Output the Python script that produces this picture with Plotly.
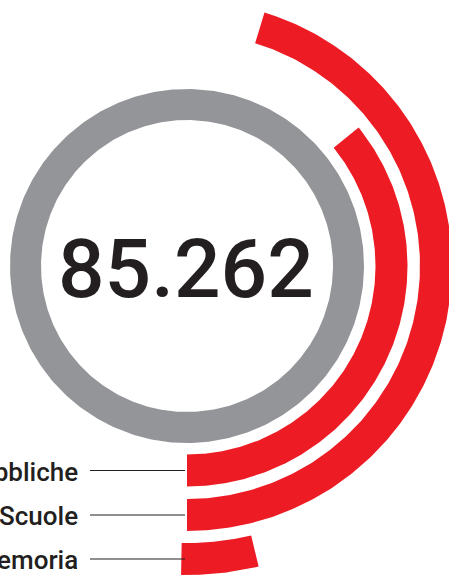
import numpy as np
import plotly.graph_objects as go

# ---- data ----
total_label = "85.262"
categories = ["Biblioteche pubbliche", "Scuole", "Luoghi della memoria"]
arc_start_deg = [270.0, 270.0, 268.9]      # where each arc begins (6 o'clock)
arc_sweep_deg = [128.9, 163.0, 14.5]       # angular extent of each arc

# ---- styles / geometry ----
RED = "#ED1C24"
GRAY = "#939598"
INK = "#231F20"
FONT = "Roboto, Liberation Sans, sans-serif"
ring_inner, ring_outer = 146, 177
arc_inner = [188.5, 233.0, 277.0]
arc_thick = 32.0
W, H = 449, 575
cx_px, cy_px = 187, 266


def sector(t0, t1, r0, r1, n=240):
    t = np.radians(np.linspace(t0, t1, n))
    xo, yo = r1 * np.cos(t), r1 * np.sin(t)
    xi, yi = r0 * np.cos(t[::-1]), r0 * np.sin(t[::-1])
    x = np.concatenate([xo, xi, xo[:1]])
    y = np.concatenate([yo, yi, yo[:1]])
    return x, y


fig = go.Figure()

# gray ring
gx, gy = sector(0, 360, ring_inner, ring_outer, 400)
fig.add_trace(go.Scatter(x=gx, y=gy, fill="toself", fillcolor=GRAY, mode="lines",
                         line=dict(width=0, color=GRAY), hoverinfo="skip", showlegend=False))

# red arcs
for name, s, sw, r0 in zip(categories, arc_start_deg, arc_sweep_deg, arc_inner):
    x, y = sector(s, s + sw, r0, r0 + arc_thick)
    fig.add_trace(go.Scatter(x=x, y=y, fill="toself", fillcolor=RED, mode="lines",
                             line=dict(width=0, color=RED), name=name,
                             hoverinfo="name", showlegend=False))
    ymid = -(r0 + arc_thick / 2)
    # leader line
    fig.add_shape(type="line", x0=-97, x1=-2, y0=ymid, y1=ymid,
                  line=dict(color=INK, width=1))
    fig.add_annotation(x=-107, y=ymid - 1, text=name, showarrow=False, xanchor="right",
                       yanchor="middle",
                       font=dict(family=FONT, size=26, color=INK, weight=500))

fig.add_annotation(x=-1.5, y=-2.7, text=total_label, showarrow=False,
                   xanchor="center", yanchor="middle",
                   font=dict(family=FONT, size=82, color=INK, weight=500))

fig.update_layout(
    width=W, height=H, autosize=False,
    margin=dict(l=0, r=0, t=0, b=0, pad=0),
    paper_bgcolor="white", plot_bgcolor="white",
    xaxis=dict(range=[-cx_px, W - cx_px], visible=False, fixedrange=True),
    yaxis=dict(range=[cy_px - H, cy_px], visible=False, fixedrange=True),
)

fig.write_html("out.html")
